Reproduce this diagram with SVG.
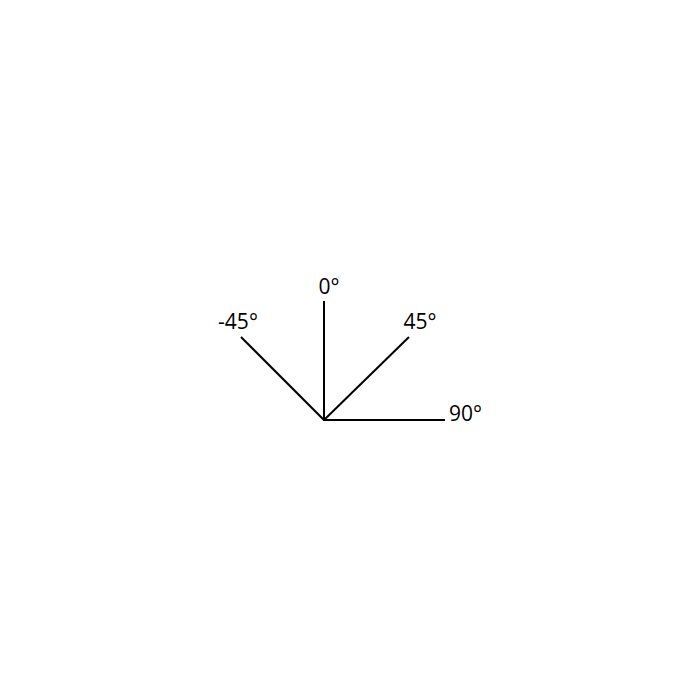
<svg xmlns="http://www.w3.org/2000/svg" width="700" height="700" viewBox="0 0 700 700">
<style>
.l{stroke:#000;stroke-width:2;fill:none}
.t{font-family:"Open Sans","Noto Sans",sans-serif;font-size:21px;fill:#000}
</style>
<rect width="700" height="700" fill="#fff"/>
<g id="connectors">
<line class="l" x1="324" y1="420" x2="324" y2="301"/>
<line class="l" x1="324" y1="420" x2="241" y2="337"/>
<line class="l" x1="324" y1="420" x2="409" y2="337"/>
<line class="l" x1="323" y1="420" x2="445" y2="420"/>
</g>
<g id="label-0"><text class="t" x="329" y="294" text-anchor="middle">0°</text></g>
<g id="label-m45"><text class="t" x="238" y="329" text-anchor="middle">-45°</text></g>
<g id="label-45"><text class="t" x="420" y="329" text-anchor="middle">45°</text></g>
<g id="label-90"><text class="t" x="449" y="421">90°</text></g>
</svg>
